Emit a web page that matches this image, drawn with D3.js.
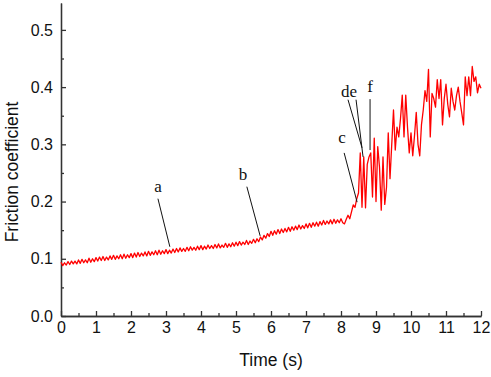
<!DOCTYPE html>
<html>
<head>
<meta charset="utf-8">
<script src="https://cdn.jsdelivr.net/npm/d3@7"></script>
<style>
  body { margin: 0; background: #fff; }
  svg { display: block; }
  .axis path, .axis line { stroke: #333; stroke-width: 1.3; }
  .axis text { font-family: "Liberation Sans", Arial, sans-serif; font-size: 16px; fill: #111; }
  .title { font-family: "Liberation Sans", Arial, sans-serif; font-size: 17.5px; fill: #111; }
  .note { font-family: "Liberation Serif", "Times New Roman", serif; font-size: 17px; fill: #111; }
</style>
</head>
<body>
<div id="chart"></div>
<script>
var width = 491,
    height = 377,
    margin = {top: 3, right: 10, bottom: 61, left: 61};

// Sampling step of the friction record, seconds.
var step = 0.05;

// Friction coefficient, one value every 0.05 s from 0 to 12 s.
var friction = [
  // 0 - 0.95 s
  0.094, 0.088, 0.093, 0.089, 0.095, 0.090, 0.096, 0.091, 0.096, 0.091,
  0.098, 0.092, 0.099, 0.093, 0.098, 0.093, 0.101, 0.094, 0.100, 0.095,
  // 1 s
  0.102, 0.096, 0.103, 0.097, 0.104, 0.097, 0.103, 0.098, 0.105, 0.099,
  0.106, 0.099, 0.105, 0.100, 0.107, 0.100, 0.108, 0.101, 0.107, 0.102,
  // 2 s
  0.109, 0.102, 0.110, 0.103, 0.111, 0.104, 0.110, 0.105, 0.112, 0.105,
  0.113, 0.106, 0.112, 0.107, 0.114, 0.107, 0.115, 0.108, 0.114, 0.109,
  // 3 s
  0.116, 0.109, 0.115, 0.110, 0.117, 0.111, 0.118, 0.112, 0.119, 0.113,
  0.118, 0.113, 0.120, 0.114, 0.121, 0.115, 0.120, 0.115, 0.122, 0.116,
  // 4 s
  0.123, 0.116, 0.122, 0.117, 0.124, 0.118, 0.123, 0.118, 0.125, 0.119,
  0.126, 0.119, 0.124, 0.120, 0.127, 0.120, 0.126, 0.121, 0.128, 0.122,
  // 5 s
  0.129, 0.123, 0.130, 0.124, 0.129, 0.125, 0.132, 0.125, 0.131, 0.127,
  0.134, 0.128, 0.135, 0.130, 0.138, 0.133, 0.141, 0.136, 0.144, 0.139,
  // 6 s
  0.148, 0.141, 0.149, 0.143, 0.151, 0.144, 0.152, 0.146, 0.153, 0.147,
  0.155, 0.148, 0.156, 0.150, 0.157, 0.151, 0.159, 0.152, 0.158, 0.153,
  // 7 s
  0.161, 0.154, 0.162, 0.155, 0.163, 0.157, 0.164, 0.157, 0.165, 0.159,
  0.167, 0.160, 0.166, 0.161, 0.168, 0.161, 0.169, 0.162, 0.168, 0.163,
  // 8 s
  0.170, 0.163, 0.161, 0.169, 0.176, 0.170, 0.182, 0.194, 0.190, 0.205,
  0.215, 0.285, 0.190, 0.278, 0.189, 0.265, 0.278, 0.285, 0.208, 0.311,
  // 9 s
  0.200, 0.296, 0.260, 0.185, 0.278, 0.195, 0.225, 0.320, 0.240, 0.300,
  0.360, 0.290, 0.330, 0.313, 0.345, 0.386, 0.313, 0.386, 0.330, 0.285,
  // 10 s
  0.320, 0.280, 0.315, 0.356, 0.300, 0.280, 0.335, 0.360, 0.394, 0.375,
  0.431, 0.313, 0.389, 0.380, 0.365, 0.413, 0.380, 0.413, 0.334, 0.380,
  // 11 s
  0.405, 0.370, 0.348, 0.398, 0.375, 0.360, 0.385, 0.400, 0.375, 0.355,
  0.334, 0.418, 0.385, 0.418, 0.385, 0.436, 0.410, 0.418, 0.390, 0.405,
  // 12 s
  0.398
];

var xTicks = [0, 1, 2, 3, 4, 5, 6, 7, 8, 9, 10, 11, 12];
var yTicks = [0.0, 0.1, 0.2, 0.3, 0.4, 0.5];

// Letters pointing at stages of the test: label spot and line from/to (time, value).
var notes = [
  {label: 'a',  tx: 2.77, ty: 0.217, x1: 2.77, y1: 0.205, x2: 3.11, y2: 0.121},
  {label: 'b',  tx: 5.20, ty: 0.238, x1: 5.31, y1: 0.226, x2: 5.69, y2: 0.140},
  {label: 'c',  tx: 8.03, ty: 0.302, x1: 8.09, y1: 0.285, x2: 8.46, y2: 0.199},
  {label: 'de', tx: 8.23, ty: 0.383, x1: 8.20, y1: 0.378, x2: 8.60, y2: 0.294},
  {label: '',   tx: 0,    ty: 0,     x1: 8.43, y1: 0.378, x2: 8.63, y2: 0.278},
  {label: 'f',  tx: 8.83, ty: 0.392, x1: 8.83, y1: 0.379, x2: 8.83, y2: 0.290}
];

var svg = d3.select('#chart').append('svg')
    .attr('width', width)
    .attr('height', height);

var x = d3.scaleLinear().domain([0, 12]).range([margin.left, width - margin.right]);
var y = d3.scaleLinear().domain([0, 0.547]).range([height - margin.bottom, margin.top]);

var minorX = d3.range(0.5, 12, 1);
var minorY = d3.range(0.05, 0.55, 0.1);

// x axis
svg.append('g')
    .attr('class', 'axis')
    .attr('transform', 'translate(0,' + y(0) + ')')
    .call(d3.axisBottom(x).tickValues(minorX).tickSize(-3).tickSizeOuter(0).tickFormat(''));
svg.append('g')
    .attr('class', 'axis')
    .attr('transform', 'translate(0,' + y(0) + ')')
    .call(d3.axisBottom(x).tickValues(xTicks).tickSize(-5).tickSizeOuter(0).tickPadding(6)
        .tickFormat(d3.format('d')));

// y axis
svg.append('g')
    .attr('class', 'axis')
    .attr('transform', 'translate(' + x(0) + ',0)')
    .call(d3.axisLeft(y).tickValues(minorY).tickSize(-3).tickSizeOuter(0).tickFormat(''));
svg.append('g')
    .attr('class', 'axis')
    .attr('transform', 'translate(' + x(0) + ',0)')
    .call(d3.axisLeft(y).tickValues(yTicks).tickSize(-5).tickSizeOuter(0).tickPadding(8)
        .tickFormat(d3.format('.1f')));

// axis titles
svg.append('text')
    .attr('class', 'title')
    .attr('text-anchor', 'middle')
    .attr('x', 271)
    .attr('y', 366)
    .text('Time (s)');
svg.append('text')
    .attr('class', 'title')
    .attr('text-anchor', 'middle')
    .attr('transform', 'translate(17.5,172) rotate(-90)')
    .text('Friction coefficient');

// friction curve
var line = d3.line()
    .x(function(d, i) { return x(i * step); })
    .y(function(d) { return y(d); });

svg.append('path')
    .datum(friction)
    .attr('fill', 'none')
    .attr('stroke', '#ff0000')
    .attr('stroke-width', 1.3)
    .attr('stroke-linejoin', 'round')
    .attr('d', line);

// annotations
var g = svg.append('g');
g.selectAll('line').data(notes).enter().append('line')
    .attr('x1', function(d) { return x(d.x1); })
    .attr('y1', function(d) { return y(d.y1); })
    .attr('x2', function(d) { return x(d.x2); })
    .attr('y2', function(d) { return y(d.y2); })
    .attr('stroke', '#111')
    .attr('stroke-width', 1);
g.selectAll('text').data(notes.filter(function(d) { return d.label; })).enter().append('text')
    .attr('class', 'note')
    .attr('text-anchor', 'middle')
    .attr('x', function(d) { return x(d.tx); })
    .attr('y', function(d) { return y(d.ty); })
    .text(function(d) { return d.label; });
</script>
</body>
</html>
